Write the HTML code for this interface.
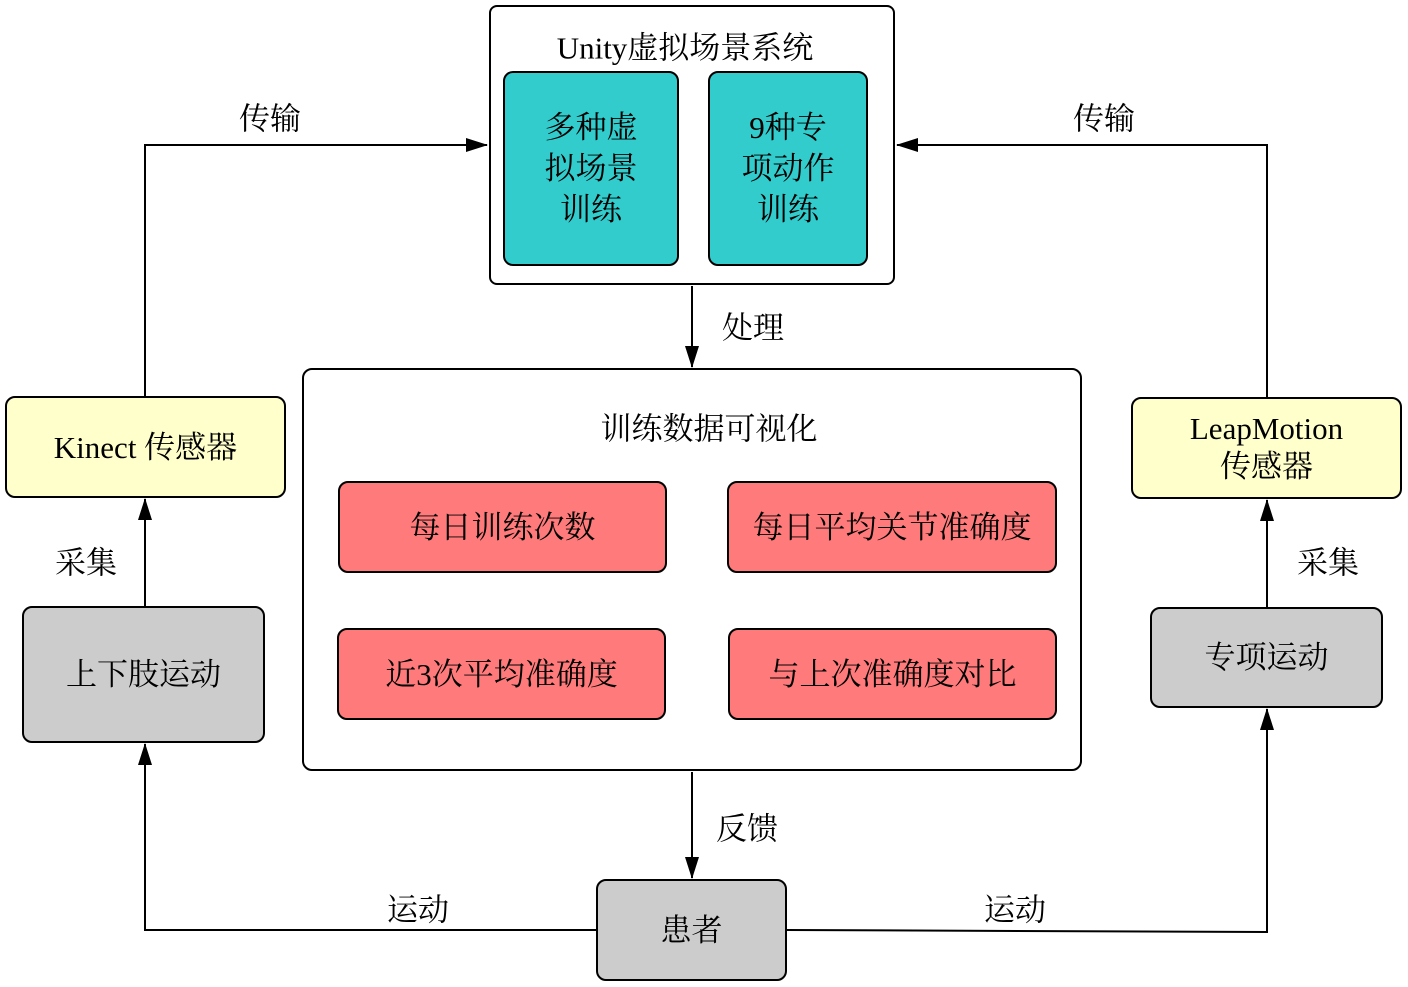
<!DOCTYPE html>
<html><head><meta charset="utf-8"><style>
html,body{margin:0;padding:0;background:#fff;}
body{width:1408px;height:987px;position:relative;overflow:hidden;font-family:"Liberation Serif","Noto Serif CJK SC",serif;}
.b{position:absolute;box-sizing:border-box;border:2px solid #000;border-radius:10px;display:flex;align-items:center;justify-content:center;text-align:center;font-size:31px;line-height:41px;color:#000;}
.t{position:absolute;font-size:31px;white-space:nowrap;transform:translate(-50%,-50%);}
</style></head><body>
<svg width="1408" height="987" style="position:absolute;left:0;top:0">
<defs><marker id="a" markerWidth="22" markerHeight="14" refX="21" refY="7" orient="auto" markerUnits="userSpaceOnUse"><path d="M0,0 L22,7 L0,14 z" fill="#000"/></marker></defs>
<g stroke="#000" stroke-width="2" fill="none">
<polyline points="145,396 145,145 487,145" marker-end="url(#a)"/>
<polyline points="1267,397 1267,145 897,145" marker-end="url(#a)"/>
<line x1="692" y1="286" x2="692" y2="367" marker-end="url(#a)"/>
<line x1="692" y1="772" x2="692" y2="878" marker-end="url(#a)"/>
<line x1="145" y1="606" x2="145" y2="499" marker-end="url(#a)"/>
<line x1="1267" y1="607" x2="1267" y2="500" marker-end="url(#a)"/>
<polyline points="596,930 145,930 145,744" marker-end="url(#a)"/>
<polyline points="787,930 1267,932 1267,709" marker-end="url(#a)"/>
</g></svg>
<div class="b" style="left:489px;top:5px;width:406px;height:280px;border-radius:8px;"></div>
<div class="t" style="left:685px;top:45px;">Unity虚拟场景系统</div>
<div class="b" style="left:503px;top:71px;width:176px;height:195px;background:#33CCCC;">多种虚<br>拟场景<br>训练</div>
<div class="b" style="left:708px;top:71px;width:160px;height:195px;background:#33CCCC;">9种专<br>项动作<br>训练</div>
<div class="b" style="left:302px;top:368px;width:780px;height:403px;"></div>
<div class="t" style="left:709px;top:426px;">训练数据可视化</div>
<div class="b" style="left:338px;top:481px;width:329px;height:92px;background:#FF7A7A;">每日训练次数</div>
<div class="b" style="left:727px;top:481px;width:330px;height:92px;background:#FF7A7A;">每日平均关节准确度</div>
<div class="b" style="left:337px;top:628px;width:329px;height:92px;background:#FF7A7A;">近3次平均准确度</div>
<div class="b" style="left:728px;top:628px;width:329px;height:92px;background:#FF7A7A;">与上次准确度对比</div>
<div class="b" style="left:5px;top:396px;width:281px;height:102px;background:#FFFFCC;">Kinect 传感器</div>
<div class="b" style="left:1131px;top:397px;width:271px;height:102px;background:#FFFFCC;line-height:38px;">LeapMotion<br>传感器</div>
<div class="b" style="left:22px;top:606px;width:243px;height:137px;background:#CCCCCC;">上下肢运动</div>
<div class="b" style="left:1150px;top:607px;width:233px;height:101px;background:#CCCCCC;">专项运动</div>
<div class="b" style="left:596px;top:879px;width:191px;height:102px;background:#CCCCCC;">患者</div>
<div class="t" style="left:270px;top:116px;">传输</div>
<div class="t" style="left:1104px;top:116px;">传输</div>
<div class="t" style="left:753px;top:325px;">处理</div>
<div class="t" style="left:747px;top:826px;">反馈</div>
<div class="t" style="left:86px;top:560px;">采集</div>
<div class="t" style="left:1328px;top:560px;">采集</div>
<div class="t" style="left:418px;top:907px;">运动</div>
<div class="t" style="left:1015px;top:907px;">运动</div>
</body></html>
